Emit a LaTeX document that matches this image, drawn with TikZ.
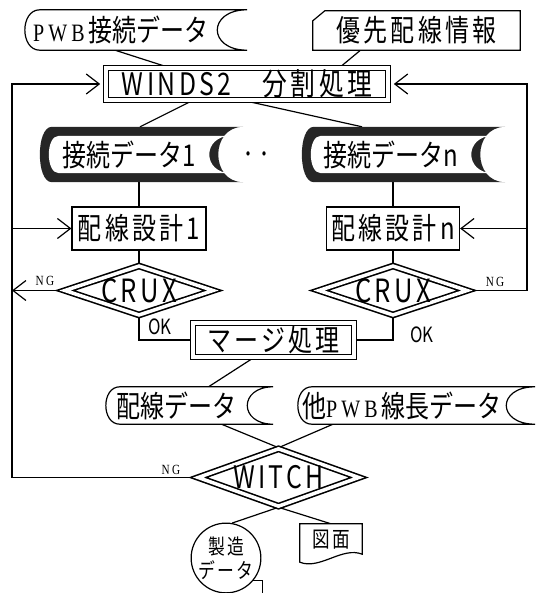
\documentclass[tikz,border=0pt]{standalone}
\usepackage{fontspec}
\setmainfont{Noto Sans CJK JP}[FakeStretch=0.8]
\newfontfamily\widefont{Noto Sans CJK JP}[FakeStretch=0.8,LetterSpace=11]
\newfontfamily\romfont{Liberation Serif}[FakeStretch=0.8]
\usetikzlibrary{shapes.geometric,arrows.meta}
\pgfdeclarelayer{background}
\pgfsetlayers{background,main}
% stored data outline round a node: name, bulge, depth, margin
\newcommand\storedpath[4]{%
  ([shift={({#2-(#4)},{-(#4)})}]#1.north west)
  .. controls +({-1.33*#2},0) and +({-1.33*#2},0) .. ([shift={({#2-(#4)},{#4})}]#1.south west)
  -- ([shift={({#3+(#4)},{#4})}]#1.south east)
  .. controls +({-1.33*#3},0) and +({-1.33*#3},0) .. ([shift={({#3+(#4)},{-(#4)})}]#1.north east) -- cycle}
\begin{document}
\begin{tikzpicture}[x=1pt,y=-1pt,
  big/.style={font=\fontsize{30}{32}\selectfont,inner sep=0pt},
  wide/.style={font=\widefont\fontsize{30}{32}\selectfont,inner sep=0pt},
  box/.style={draw,line width=1.2pt},
  dbox/.style={draw,line width=1.6pt,double,double distance=3.5pt},
  dia/.style={diamond,aspect=3,inner sep=0pt,draw,line width=1.6pt,double,double distance=3.5pt},
  lbl/.style={font=\romfont\fontsize{14}{14}\selectfont,inner sep=0pt},
  ok/.style={font=\fontsize{21}{21}\selectfont,inner sep=0pt},
  ln/.style={line width=1.2pt},
  arr/.style={ln,-{Straight Barb[length=13pt,width=20pt]}}]
\useasboundingbox (0,0) rectangle (538,593);
\coordinate (lft) at (12,0);
\coordinate (rgt) at (527,0);
%inputs
\node[big,minimum width=192pt,minimum height=40pt] (pwb) at (121,30) {{\romfont\fontsize{25}{30}\selectfont P\,W\,B\,}接続データ};
\node[wide,minimum width=207pt,minimum height=39pt] (yu) at (416.5,30.5) {優先配線情報};
%split
\node[wide,dbox,minimum width=282pt,minimum height=32pt,font=\widefont\fontsize{31}{32}\selectfont] (winds) at (247,84) {WINDS2\quad 分割処理};
\node[big,minimum width=178pt,minimum height=55pt] (kd1) at (129,154.5) {接続データ1};
\node[big,minimum width=178pt,minimum height=55pt] (kdn) at (391,154.5) {接続データn};
\node[font=\fontsize{20}{20}\selectfont,inner sep=0pt] (dots) at (256,157) {・・};
%design
\node[wide,box,minimum width=134pt,minimum height=43pt] (pd1) at (139,228.5) {配線設計1};
\node[wide,box,minimum width=133pt,minimum height=43pt] (pdn) at (393,228.5) {配線設計n};
\node[dia,minimum width=144pt,minimum height=46pt,font=\widefont\fontsize{32}{32}\selectfont] (crux1) at (139,290.5) {CRUX};
\node[dia,minimum width=144pt,minimum height=46pt,font=\widefont\fontsize{32}{32}\selectfont] (cruxn) at (393,290.5) {CRUX};
\node[wide,dbox,minimum width=161pt,minimum height=34pt] (merge) at (273.5,340) {マージ処理};
%output
\node[big,minimum width=141pt,minimum height=37pt] (hd) at (176.5,405.5) {配線データ};
\node[big,minimum width=208pt,minimum height=37pt] (ot) at (402,405.5) {他{\romfont\fontsize{25}{30}\selectfont P\,W\,B\,}線長データ};
\node[dia,minimum width=148pt,minimum height=58pt,font=\widefont\fontsize{31}{32}\selectfont] (witch) at (278.5,477.5) {WITCH};
\node[circle,draw,ln,minimum size=64pt,inner sep=0pt,align=center,font=\widefont\fontsize{21}{24}\selectfont] (mf) at (226,558) {製造\\データ};
\node[minimum width=62pt,minimum height=32pt,inner sep=0pt,font=\widefont\fontsize{22}{22}\selectfont] (fig) at (331,540) {図面};
%labels
\node[lbl] (ng1) at (45,281) {N\,G};
\node[lbl] (ng2) at (495,282) {N\,G};
\node[lbl] (ng3) at (171,470) {N\,G};
\node[ok] (ok1) at (160,327) {OK};
\node[ok] (ok2) at (422,335) {OK};
\begin{pgfonlayer}{background}
%connectors
\draw[ln] ([xshift=-6pt]pwb.south) -- ([xshift=-79pt]winds.north);
\draw[ln] ([xshift=-56pt]yu.south) -- ([xshift=93pt]winds.north);
\draw[ln] ([xshift=-55pt]winds.south) -- ([xshift=11pt]kd1.north);
\draw[ln] ([xshift=-2pt]winds.south) -- ([xshift=-29pt]kdn.north);
\draw[ln] (kd1.south -| pd1.north) -- (pd1.north);
\draw[ln] (kdn.south -| pdn.north) -- (pdn.north);
\draw[ln] (pd1.south) -- (crux1.north);
\draw[ln] (pdn.south) -- (cruxn.north);
\draw[ln] (crux1.south) |- (merge.west);
\draw[ln] (cruxn.south) |- (merge.east);
\draw[ln] ([xshift=-20pt]merge.south) -- ([xshift=32pt]hd.north);
\draw[ln] ([xshift=45pt]hd.south) -- (witch.north);
\draw[ln] ([xshift=-69pt]ot.south) -- (witch.north);
\draw[ln] (witch.south) -- (mf.80);
\draw[ln] (witch.south) -- (fig.north);
\draw[ln] (mf.-40) -- ++(9,0) -- ++(0,14);
%feedback
\draw[arr] (witch.west) -- (witch.west -| lft) -- (winds.west -| lft) -- ([xshift=-5pt]winds.west);
\draw[arr] (pd1.west -| lft) -- (pd1.west);
\draw[arr] (crux1.west) -- (crux1.west -| lft);
\draw[arr] (cruxn.east) -- (cruxn.east -| rgt) -- (winds.east -| rgt) -- ([xshift=5pt]winds.east);
\draw[arr] (pdn.east -| rgt) -- (pdn.east);
%shapes
\filldraw[ln,fill=white] \storedpath{pwb}{15}{30}{0};
\filldraw[ln,fill=white] (yu.north east) -- ([xshift=12pt]yu.north west) -- ([yshift=-10pt]yu.north west) -- (yu.south west) -- (yu.south east) -- cycle;
\fill[black!85] \storedpath{kd1}{12}{25}{0};
\fill[white] \storedpath{kd1}{10}{22}{-9};
\fill[black!85] \storedpath{kdn}{12}{25}{0};
\fill[white] \storedpath{kdn}{10}{22}{-9};
\filldraw[ln,fill=white] \storedpath{hd}{14}{26}{0};
\filldraw[ln,fill=white] \storedpath{ot}{14}{29}{0};
\filldraw[ln,fill=white] (fig.north west) -- (fig.north east) -- ([shift={(0,-2)}]fig.south east) .. controls +(-20,-8) and +(20,8) .. ([shift={(0,6)}]fig.south west) -- cycle;
\end{pgfonlayer}
\end{tikzpicture}
\end{document}
